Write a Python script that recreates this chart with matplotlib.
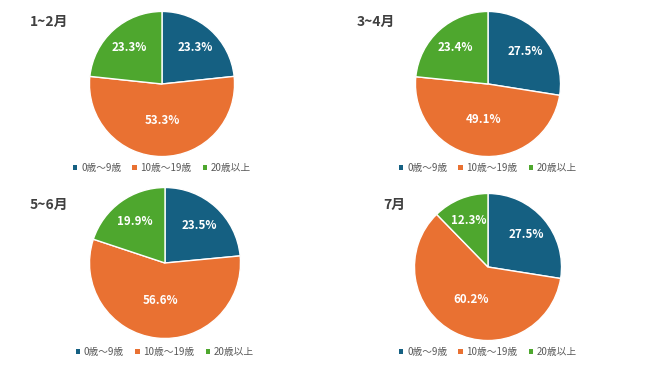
import matplotlib.pyplot as plt
import numpy as np
from matplotlib.patches import Patch

plt.rcParams['font.family'] = ['Noto Sans CJK JP', 'DejaVu Sans']

# データ
periods = ["1~2月", "3~4月", "5~6月", "7月"]
age_groups = ["0歳～9歳", "10歳～19歳", "20歳以上"]
share_0_9 = [23.3, 27.5, 23.5, 27.5]
share_10_19 = [53.3, 49.1, 56.6, 60.2]
share_20_up = [23.3, 23.4, 19.9, 12.3]

colors = ["#156082", "#E97132", "#4EA72E"]

W, H = 650, 365
fig = plt.figure(figsize=(6.5, 3.65), dpi=100)
fig.patch.set_facecolor("white")

# パネルごとの中心・半径 (ピクセル)
centers = [(162, 84, 74), (488, 84, 74), (165, 263, 77), (488, 267, 75)]
title_pos = [(30, 22), (357, 22), (30, 205), (383, 205)]
legend_y = [168, 168, 352, 352]

for i in range(4):
    cx, cy, r = centers[i]
    ax = fig.add_axes([(cx - r) / W, (H - cy - r) / H, 2 * r / W, 2 * r / H])
    vals = [share_0_9[i], share_10_19[i], share_20_up[i]]
    wedges, _ = ax.pie(vals, colors=colors, startangle=90, counterclock=False,
                       radius=1, wedgeprops=dict(edgecolor="white", linewidth=1))
    ax.set_xlim(-1.02, 1.02)
    ax.set_ylim(-1.02, 1.02)
    ax.axis("off")
    for w, v in zip(wedges, vals):
        ang = np.deg2rad((w.theta1 + w.theta2) / 2)
        d = 0.5 if v > 45 else 0.68
        ax.text(d * np.cos(ang), d * np.sin(ang), f"{v:.1f}%", color="white",
                fontsize=8.3, fontweight="bold", ha="center", va="center")

    tx, ty = title_pos[i]
    fig.text(tx / W, 1 - ty / H, periods[i], fontsize=10, fontweight="bold",
             color="#404040", ha="left", va="center")

    handles = [Patch(facecolor=c, edgecolor="none") for c in colors]
    fig.legend(handles, age_groups, loc="center", ncol=3,
               bbox_to_anchor=(cx / W, 1 - legend_y[i] / H), frameon=False,
               fontsize=7, labelcolor="#595959", handlelength=0.45,
               handleheight=0.45, handletextpad=0.4, columnspacing=1.15)

fig.savefig("out.png", dpi=100, facecolor="white")
